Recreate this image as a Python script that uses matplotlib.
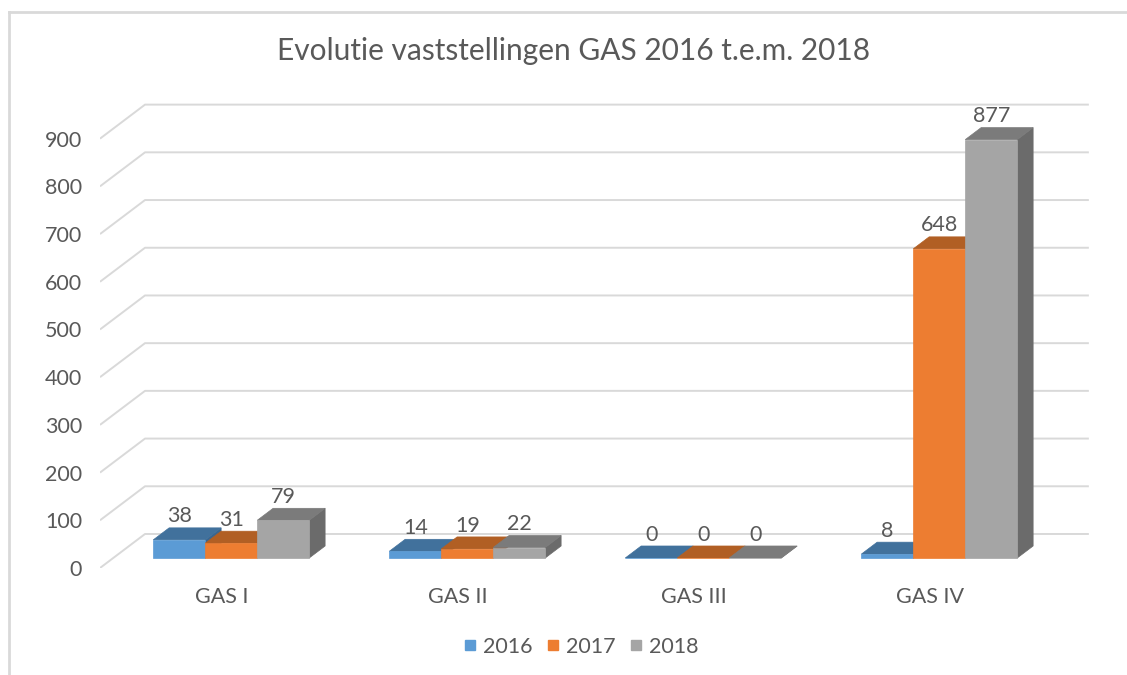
import matplotlib
matplotlib.use("Agg")
import matplotlib.pyplot as plt
from matplotlib.patches import Polygon
from matplotlib.lines import Line2D

plt.rcParams['font.family'] = ['Lato', 'DejaVu Sans']

# Data
categories = ['GAS I', 'GAS II', 'GAS III', 'GAS IV']
years = ['2016', '2017', '2018']
values = {
    '2016': [38, 14, 0, 8],
    '2017': [31, 19, 0, 648],
    '2018': [79, 22, 0, 877],
}
yticks = list(range(0, 1000, 100))

# Colours per series: front, top, side
face_colors = {
    '2016': ('#5b9bd5', '#41719c', '#3a6690'),
    '2017': ('#ed7d31', '#b15f24', '#a55520'),
    '2018': ('#a5a5a5', '#7b7b7b', '#6b6b6b'),
}
text_color = '#595959'
grid_color = '#d9d9d9'
fs = 15.5

# Pseudo 3D geometry (in data units)
depth_dx = 0.1907     # category units for full floor depth
depth_dy = 71.3       # value units for full floor depth
bar_z0, bar_z1 = 0.294, 0.647
bar_w = 0.2203
xmax, ymax = 4.216, 981
grid_xend = 4.19

W, H = 1127, 675
fig = plt.figure(figsize=(W / 100, H / 100), dpi=100)
ax = fig.add_axes([100 / W, (H - 568) / H, 995 / W, 468 / H])
ax.set_xlim(0, xmax)
ax.set_ylim(0, ymax)
for s in ax.spines.values():
    s.set_visible(False)


def proj(x, y, z):
    return (x + z * depth_dx, y + z * depth_dy)


# Grid: side wall diagonals + back wall lines
for v in yticks:
    ax.plot([0, depth_dx, grid_xend], [v, v + depth_dy, v + depth_dy],
            color=grid_color, lw=1.4, zorder=1, solid_capstyle='butt')

# Bars
group_start = (1 - 3 * bar_w) / 2
for i, cat in enumerate(categories):
    for j, yr in enumerate(years):
        v = values[yr][i]
        x0 = i + group_start + j * bar_w
        x1 = x0 + bar_w
        front_c, top_c, side_c = face_colors[yr]
        front = [proj(x0, 0, bar_z0), proj(x1, 0, bar_z0),
                 proj(x1, v, bar_z0), proj(x0, v, bar_z0)]
        top = [proj(x0, v, bar_z0), proj(x1, v, bar_z0),
               proj(x1, v, bar_z1), proj(x0, v, bar_z1)]
        side = [proj(x1, 0, bar_z0), proj(x1, 0, bar_z1),
                proj(x1, v, bar_z1), proj(x1, v, bar_z0)]
        for pts, c in [(side, side_c), (top, top_c), (front, front_c)]:
            ax.add_patch(Polygon(pts, closed=True, facecolor=c,
                                 edgecolor=c, lw=0.5, zorder=3))
        lx, ly = proj((x0 + x1) / 2, v, bar_z1)
        ax.annotate(str(v), ((x0 + x1) / 2 + bar_z0 * depth_dx, ly),
                    xytext=(0, 1), textcoords='offset points',
                    ha='center', va='bottom', fontsize=fs,
                    color=text_color, zorder=5)

# Axes ticks
ax.set_yticks(yticks)
ax.set_yticklabels([str(t) for t in yticks])
ax.set_xticks([i + 0.515 for i in range(len(categories))])
ax.set_xticklabels(categories)
ax.tick_params(axis='y', length=0, pad=13, labelsize=fs,
               labelcolor=text_color)
ax.tick_params(axis='x', length=0, pad=14, labelsize=fs,
               labelcolor=text_color)

# Title
fig.text(574 / W, 1 - 51 / H, 'Evolutie vaststellingen GAS 2016 t.e.m. 2018',
         ha='center', va='center', fontsize=21.5, color=text_color)

# Legend
handles = [Line2D([], [], marker='s', linestyle='None', markersize=7.5,
                  color=face_colors[yr][0], label=yr) for yr in years]
fig.legend(handles=handles, loc='center', bbox_to_anchor=(579 / W, 1 - 647 / H),
           ncol=3, frameon=False, fontsize=fs, handletextpad=0.1,
           columnspacing=0.45, handlelength=1.0, labelcolor=text_color)

# Chart frame (left and top edges visible)
fig.add_artist(Line2D([9 / W, 9 / W], [0, 1 - 12 / H],
                      color=grid_color, lw=2, transform=fig.transFigure))
fig.add_artist(Line2D([9 / W, 1], [1 - 12 / H, 1 - 12 / H],
                      color=grid_color, lw=2, transform=fig.transFigure))

fig.savefig('out.png', dpi=100)
